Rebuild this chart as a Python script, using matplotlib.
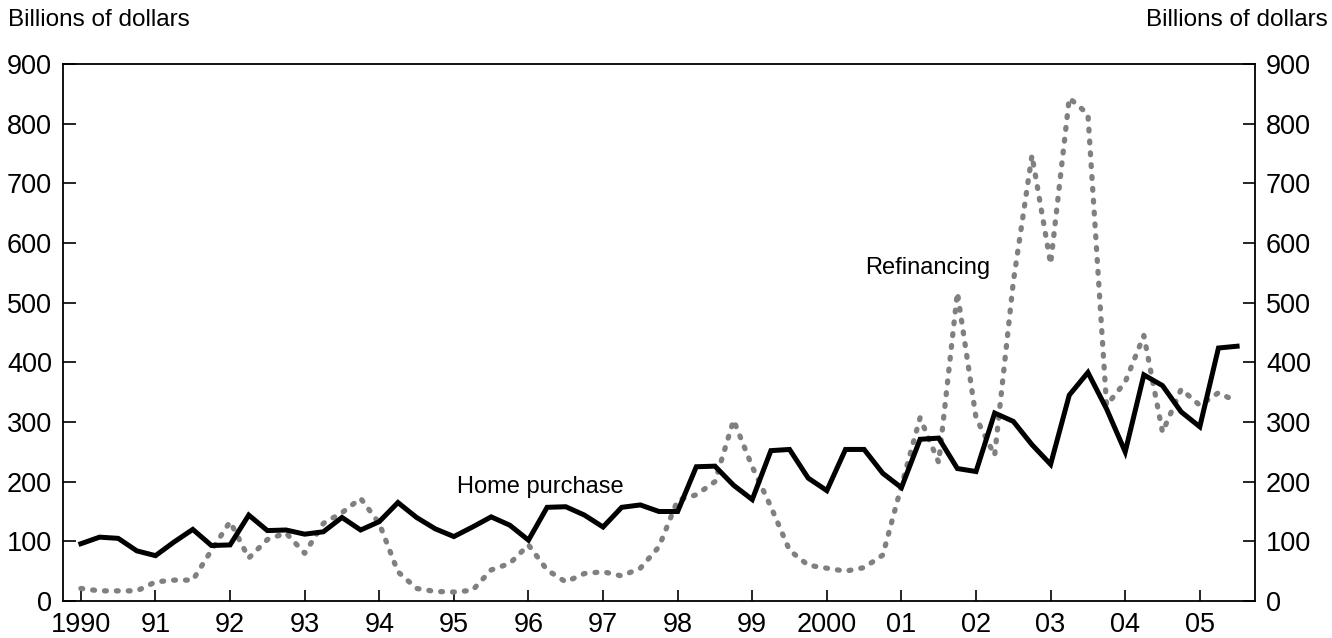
import matplotlib
matplotlib.use("Agg")
import matplotlib.pyplot as plt
import numpy as np

plt.rcParams["font.family"] = ["Liberation Sans", "DejaVu Sans"]

# quarterly, 1990:Q1 .. 2005:Q3 (billions of dollars)
start_year = 1990
home_purchase = [
    96, 107, 105, 84, 76, 99, 120, 93, 94, 144,
    118, 119, 112, 116, 140, 119, 133, 165, 140, 121,
    108, 124, 141, 127, 102, 157, 158, 144, 124, 157,
    161, 150, 150, 225, 226, 194, 170, 252, 254, 206,
    185, 254, 254, 214, 190, 271, 273, 222, 217, 315,
    301, 262, 229, 345, 383, 322, 250, 379, 361, 317,
    292, 424, 427,
]
refinancing = [
    21, 17, 17, 17, 32, 35, 35, 85, 133, 72,
    103, 114, 80, 130, 148, 172, 130, 49, 21, 16,
    15, 18, 52, 63, 94, 52, 32, 46, 49, 42,
    55, 91, 169, 178, 200, 303, 225, 158, 85, 60,
    55, 50, 56, 77, 193, 307, 232, 517, 307, 244,
    535, 747, 565, 843, 816, 328, 367, 445, 283, 355,
    328, 349, 334,
]
tick_years = list(range(1990, 2006))
tick_labels = ["1990", "91", "92", "93", "94", "95", "96", "97", "98", "99",
               "2000", "01", "02", "03", "04", "05"]
y_ticks = list(range(0, 1000, 100))

x = start_year + np.arange(len(home_purchase)) * 0.25

fig = plt.figure(figsize=(13.32, 6.38), dpi=100)
ax = fig.add_axes([63 / 1332, 1 - 601 / 638, (1255 - 63) / 1332, (601 - 64) / 638])

ax.plot(x, refinancing, color="#808080", lw=3.8,
        linestyle=(0, (0.35, 1.9)), dash_capstyle="round")
ax.plot(x, home_purchase, color="black", lw=3.6, solid_joinstyle="miter")

ax.set_xlim(1989.76, 2005.74)
ax.set_ylim(0, 900)
ax.set_xticks(tick_years)
ax.set_xticklabels(tick_labels)
ax.set_yticks(y_ticks)

ax.tick_params(axis="both", direction="in", labelsize=19.5, width=1.2, color="black")
ax.tick_params(axis="x", length=8, pad=8)
ax.tick_params(axis="y", length=9, pad=8, left=True, right=True,
               labelleft=True, labelright=True)
for s in ax.spines.values():
    s.set_linewidth(1.3)

ax.text(1995.04, 191, "Home purchase", fontsize=17, va="center", ha="left")
ax.text(2000.52, 558, "Refinancing", fontsize=17, va="center", ha="left")

fig.text(8 / 1332, 1 - 20 / 638, "Billions of dollars", fontsize=17.5,
         ha="left", va="center")
fig.text(1328 / 1332, 1 - 20 / 638, "Billions of dollars", fontsize=17.5,
         ha="right", va="center")

fig.savefig("out.png", dpi=100)
plt.close(fig)
